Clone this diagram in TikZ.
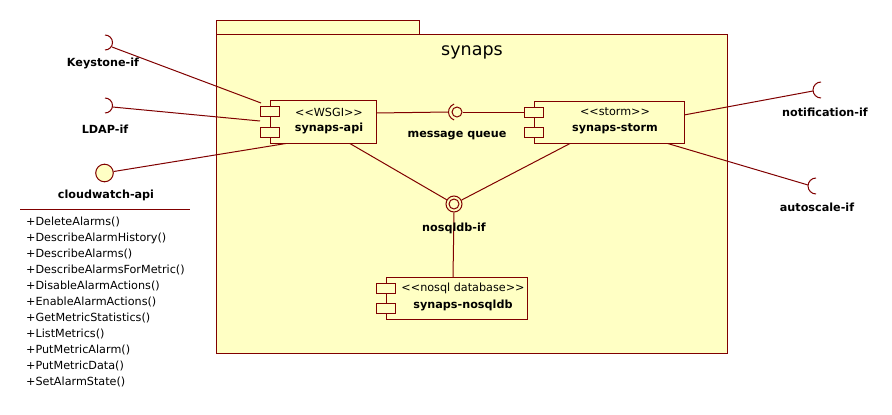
\documentclass[tikz,border=0pt]{standalone}
\usepackage{fontspec}
\setmainfont{DejaVu Sans}[Ligatures=TeXOff]
\definecolor{umlline}{RGB}{128,0,0}
\definecolor{umlfill}{RGB}{255,255,196}
\tikzset{
  ln/.style={draw=umlline, line width=1pt},
  boxst/.style={draw=umlline, fill=umlfill, line width=1pt, rectangle, inner sep=0pt},
  portst/.style={boxst, minimum width=19pt, minimum height=10pt},
  ringst/.style={draw=umlline, line width=1pt, circle, inner sep=0pt},
  lbl/.style={font=\fontsize{11.2}{13}\selectfont\bfseries, text=black, inner sep=0pt},
  txt/.style={font=\fontsize{11.2}{13}\selectfont, text=black, inner sep=0pt},
}
\begin{document}
\begin{tikzpicture}[x=1pt,y=-1pt]
\useasboundingbox (0,0) rectangle (892,415);
% package
\node[boxst, anchor=north west, minimum width=203pt, minimum height=14pt] (tab) at (216,20) {};
\node[boxst, anchor=north west, minimum width=511pt, minimum height=319pt] (pkg) at (216,34) {};
\node[font=\fontsize{17.5}{20}\selectfont, inner sep=0pt] (title) at (472,52) {synaps};

% named end points
\coordinate (ks) at (112,47);
\coordinate (ld) at (112.5,107);
\coordinate (apiKs) at (261,103);
\coordinate (apiLd) at (260,121);
\coordinate (apiCw) at (289,143);
\coordinate (apiMq) at (376,113);
\coordinate (apiNq) at (349,143);
\coordinate (mqL) at (448.5,112);
\coordinate (stMq) at (524,112);
\coordinate (stNq) at (571,143);
\coordinate (stNt) at (684,115);
\coordinate (stAs) at (666,143);
\coordinate (nt) at (813,91);
\coordinate (as) at (808,185);
\coordinate (nqTop) at (453,277);

% interface circles
\node[ringst, fill=umlfill, minimum size=17.6pt] (cw) at (104.5,173) {};
\node[ringst, minimum size=10pt] (mq) at (457,112) {};
\node[ringst, minimum size=16pt] (nq) at (454,204) {};
\node[ringst, minimum size=10pt] (nqb) at (454,204) {};

% connectors
\draw[ln] (ks) -- (apiKs);
\draw[ln] (ld) -- (apiLd);
\draw[ln] (cw) -- (apiCw);
\draw[ln] (apiMq) -- (mqL);
\draw[ln] (mq) -- (stMq);
\draw[ln] (apiNq) -- (nq);
\draw[ln] (stNq) -- (nq);
\draw[ln] (stNt) -- (nt);
\draw[ln] (stAs) -- (as);
\draw[ln] (nq.south) -- (nqTop);

% sockets
\draw[ln] (105,35) arc[start angle=-90, end angle=90, radius=7.5];
\draw[ln] (105,98) arc[start angle=-90, end angle=90, radius=7.5];
\draw[ln] (821,98) arc[start angle=90, end angle=270, radius=8];
\draw[ln] (816,194) arc[start angle=90, end angle=270, radius=8];
\draw[ln] (mq.center) ++(110:8.5) arc[start angle=110, end angle=250, radius=8.5];

% components
\node[boxst, minimum width=106pt, minimum height=43pt] (api) at (323,121.5) {};
\node[portst] (apiP1) at (269.5,111) {};
\node[portst] (apiP2) at (269.5,132) {};
\node[txt] (apiS) at (329,112) {<\kern0pt<WSGI>\kern0pt>};
\node[lbl] (apiN) at (329,128) {synaps-api};

\node[boxst, minimum width=150pt, minimum height=42pt] (storm) at (609,122) {};
\node[portst] (stP1) at (533.5,112) {};
\node[portst] (stP2) at (533.5,132) {};
\node[txt] (stS) at (615,112) {<\kern0pt<storm>\kern0pt>};
\node[lbl] (stN) at (615,129) {synaps-storm};

\node[boxst, minimum width=141pt, minimum height=42pt] (nosql) at (456.5,298) {};
\node[portst] (noP1) at (385.5,288) {};
\node[portst] (noP2) at (385.5,308) {};
\node[txt] (noS) at (463,288) {<\kern0pt<nosql database>\kern0pt>};
\node[lbl] (noN) at (463,305) {synaps-nosqldb};

% labels
\node[lbl] (ksL) at (103,63) {Keystone-if};
\node[lbl] (ldL) at (105,129) {LDAP-if};
\node[lbl] (cwL) at (106,195) {cloudwatch-api};
\node[lbl] (mqLb) at (457,136) {message queue};
\node[lbl] (nqL) at (454,228) {nosqldb-if};
\node[lbl] (ntL) at (825,112) {notification-if};
\node[lbl] (asL) at (817,207) {autoscale-if};

% operations
\coordinate (sepL) at (20,209);
\coordinate (sepR) at (190,209);
\draw[ln] (sepL) -- (sepR);
\node[txt, anchor=north west, align=left, font=\fontsize{11.2}{16}\selectfont] (ops) at (26,217) {%
+DeleteAlarms()\\
+DescribeAlarmHistory()\\
+DescribeAlarms()\\
+DescribeAlarmsForMetric()\\
+DisableAlarmActions()\\
+EnableAlarmActions()\\
+GetMetricStatistics()\\
+ListMetrics()\\
+PutMetricAlarm()\\
+PutMetricData()\\
+SetAlarmState()};
\end{tikzpicture}
\end{document}
